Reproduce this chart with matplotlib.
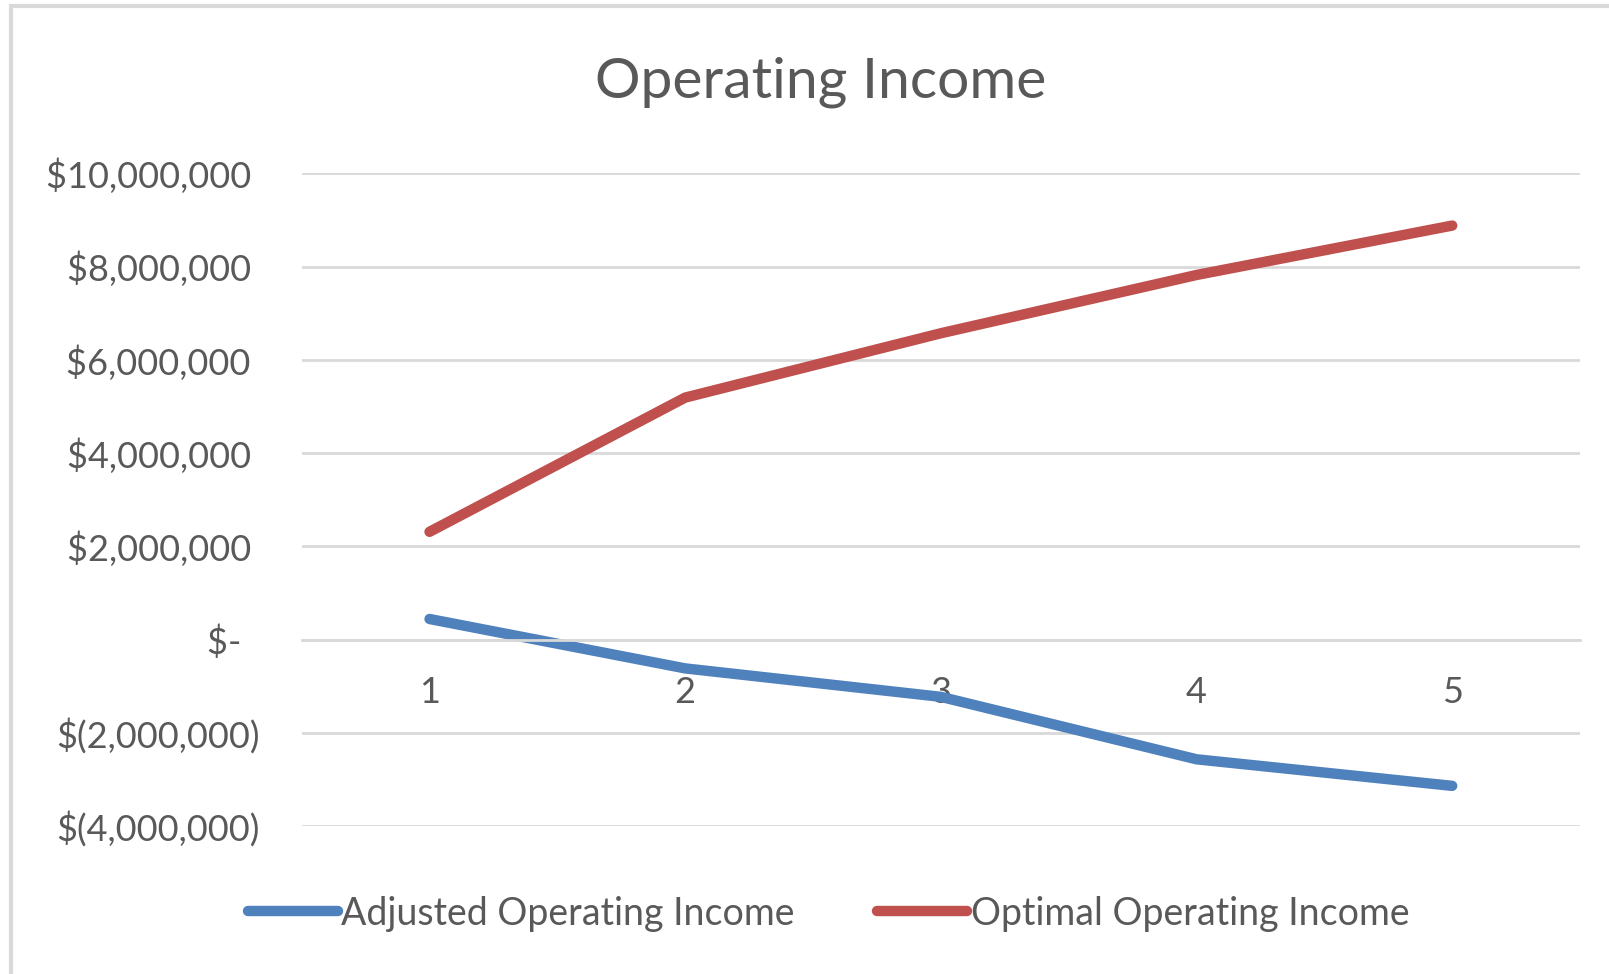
import matplotlib.pyplot as plt
from matplotlib.patches import Rectangle
from matplotlib.ticker import FuncFormatter

years = [1, 2, 3, 4, 5]
adjusted = [440000, -620000, -1230000, -2570000, -3140000]
optimal = [2310000, 5190000, 6570000, 7820000, 8880000]
y_ticks = [-4000000, -2000000, 0, 2000000, 4000000, 6000000, 8000000, 10000000]

plt.rcParams['font.family'] = ['Lato', 'DejaVu Sans']
text_color = '#595959'
grid_color = '#d9d9d9'


def accounting(v, pos):
	"""Excel accounting style labels"""
	if v == 0:
		return '$-  '
	if v < 0:
		return '$({:,.0f})'.format(-v)
	return '${:,.0f} '.format(v)


fig = plt.figure(figsize=(16.09, 9.74), dpi=100)
ax = fig.add_axes([0.1875, 0.152, 0.7945, 0.67])

ax.plot(years, adjusted, color='#4F81BD', lw=7.5, solid_capstyle='round', solid_joinstyle='round',
	label='Adjusted Operating Income')
ax.plot(years, optimal, color='#C0504D', lw=7.5, solid_capstyle='round', solid_joinstyle='round',
	label='Optimal Operating Income')

ax.set_xlim(0.5, 5.5)
ax.set_ylim(-4000000, 10000000)
ax.set_yticks(y_ticks)
ax.yaxis.set_major_formatter(FuncFormatter(accounting))
ax.set_xticks(years)
ax.set_xticklabels([str(y) for y in years])

ax.grid(axis='y', color=grid_color, lw=2)
ax.set_axisbelow(True)
for s in ['left', 'right', 'top']:
	ax.spines[s].set_visible(False)
ax.spines['bottom'].set_position(('data', 0))
ax.spines['bottom'].set_color(grid_color)
ax.spines['bottom'].set_linewidth(2)
ax.tick_params(axis='both', length=0, colors=text_color, labelsize=26)
ax.tick_params(axis='y', pad=30)
ax.tick_params(axis='x', pad=26)

fig.text(0.51, 0.916, 'Operating Income', ha='center', va='center', fontsize=41, color=text_color)

leg = fig.legend(loc='center', bbox_to_anchor=(0.515, 0.062), ncol=2, frameon=False, fontsize=27,
	handlelength=2.4, handletextpad=0.1, columnspacing=2.2, labelcolor=text_color)

fig.patches.append(Rectangle((0.007, -0.01), 1.0, 1.004, transform=fig.transFigure,
	fill=False, edgecolor='#d9d9d9', lw=3))

fig.savefig('out.png', dpi=100)
